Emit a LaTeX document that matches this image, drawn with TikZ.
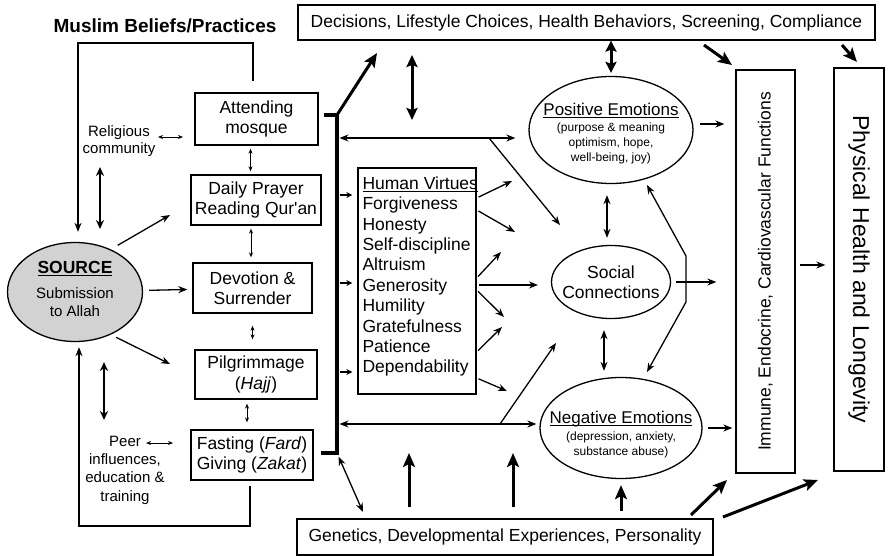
\documentclass[tikz,border=0pt]{standalone}
\usepackage{xcolor}
\usepackage{tikz}
\usepackage{fontspec}
\setmainfont{Liberation Sans}
\usetikzlibrary{shapes.geometric, arrows.meta}

\begin{document}
\begin{tikzpicture}[x=1pt, y=-1pt,
    caja/.style={draw, line width=1.3pt, align=center, inner sep=4pt,
      font=\fontsize{17.5pt}{20.5pt}\selectfont},
    elipse/.style={draw, ellipse, line width=1.3pt, inner sep=0pt},
    texto/.style={align=center, inner sep=3pt},
    flecha/.style={->, >={Stealth[length=9pt, width=7pt]}, line width=1.3pt},
    dflecha/.style={flecha, <->},
    corta/.style={->, >={Stealth[length=6pt, width=6pt]}, line width=1.3pt},
    flechita/.style={<->, >={Stealth[length=5pt, width=4pt]}, line width=0.8pt},
    media/.style={<->, >={Stealth[length=9pt, width=8pt]}, line width=1.8pt},
    gruesa/.style={->, >={Stealth[length=14pt, width=12pt, inset=3pt]}, line width=3pt},
    dgruesa/.style={gruesa, <->}]
  \useasboundingbox (0,0) rectangle (889,556);

  % Nodos principales
  \node[font=\fontsize{19pt}{22pt}\selectfont\bfseries] (titulo) at (165,26) {Muslim Beliefs/Practices};
  \node[caja, minimum width=577pt, minimum height=35pt] (decisiones) at (586.5,22.5) {Decisions, Lifestyle Choices, Health Behaviors, Screening, Compliance};
  \node[caja, minimum width=416pt, minimum height=36pt] (genetica) at (505,537) {Genetics, Developmental Experiences, Personality};

  % Practicas
  \node[caja, minimum width=123pt, minimum height=52pt] (mezquita) at (256.5,119) {Attending\\mosque};
  \node[caja, minimum width=122pt, minimum height=50pt] (oracion) at (256,200) {Daily Prayer\\Reading Qur\textquotesingle an};
  \node[caja, minimum width=119pt, minimum height=50pt] (devocion) at (252.5,288) {Devotion \&\\Surrender};
  \node[caja, minimum width=122pt, minimum height=49pt] (hajj) at (256,374.5) {Pilgrimmage\\(\textit{Hajj})};
  \node[caja, minimum width=122pt, minimum height=50pt] (ayuno) at (252,455) {Fasting (\textit{Fard})\\Giving (\textit{Zakat})};

  % Fuente
  \node[elipse, fill=gray!35, minimum width=135pt, minimum height=99pt] (fuente) at (75,292) {};
  \node[texto, font=\fontsize{15pt}{18pt}\selectfont] (fuentetxt) at (75,289) {{\fontsize{17.5pt}{20pt}\selectfont\bfseries\underline{SOURCE}}\\[7pt]Submission\\to Allah};
  \node[texto, font=\fontsize{15pt}{17.5pt}\selectfont] (comunidad) at (119,141) {Religious\\community};
  \node[texto, font=\fontsize{15pt}{18.3pt}\selectfont] (pares) at (125,470) {Peer\\influences,\\education \&\\training};

  % Virtudes
  \node[caja, minimum width=118pt, minimum height=226pt] (virtudes) at (417,281) {};
  \node[anchor=north west, align=left, inner xsep=5pt, inner ysep=9pt,
    font=\fontsize{17.5pt}{20.4pt}\selectfont] (listavirtudes) at (virtudes.north west)
    {\underline{Human Virtues}\\Forgiveness\\Honesty\\Self-discipline\\Altruism\\Generosity\\Humility\\Gratefulness\\Patience\\Dependability};

  % Emociones
  \node[elipse, minimum width=164pt, minimum height=107pt] (positivas) at (611,130) {};
  \node[texto, font=\fontsize{12pt}{15pt}\selectfont] (positivastxt) at (611,134) {{\fontsize{17pt}{20pt}\selectfont\underline{Positive Emotions}}\\[1pt](purpose \& meaning\\optimism, hope,\\well-being, joy)};
  \node[elipse, minimum width=119pt, minimum height=73pt] (social) at (611,282) {};
  \node[texto, font=\fontsize{17.5pt}{20pt}\selectfont] (socialtxt) at (social) {Social\\Connections};
  \node[elipse, minimum width=162pt, minimum height=101pt] (negativas) at (621,428) {};
  \node[texto, font=\fontsize{12pt}{15pt}\selectfont] (negativastxt) at (621,435) {{\fontsize{17pt}{20pt}\selectfont\underline{\raisebox{0pt}[\height][0pt]{Negative Emotions}}}\\[2pt](depression, anxiety,\\substance abuse)};

  % Resultados
  \node[caja, minimum width=59pt, minimum height=403pt] (inmune) at (765.5,271.5) {\rotatebox{90}{Immune, Endocrine, Cardiovascular Functions}};
  \node[caja, minimum width=50pt, minimum height=403pt, font=\fontsize{23pt}{26pt}\selectfont] (salud) at (859,269.5) {\rotatebox{-90}{Physical Health and Longevity}};

  % Puntos de apoyo
  \coordinate (barrasup) at (337,115);
  \coordinate (barrainf) at (337,453);
  \coordinate (esqsup) at (78,43);
  \coordinate (esqinf) at (79,526);
  \coordinate (f1) at (170,215);
  \coordinate (f2) at (170,364);
  \coordinate (r1) at (158,137);
  \coordinate (r2) at (183,137);
  \coordinate (q1) at (146,443);
  \coordinate (q2) at (173,443);
  \coordinate (v1) at (100,167);
  \coordinate (v2) at (100,229);
  \coordinate (v3) at (104,362);
  \coordinate (v4) at (104,420);
  \coordinate (d1) at (377,53);
  \coordinate (d2) at (412,55);
  \coordinate (d3) at (412,120);
  \coordinate (b1) at (489,138);
  \coordinate (b2) at (560,225);
  \coordinate (b3) at (500,424);
  \coordinate (b4) at (556,343);
  \coordinate (g1) at (363,512);
  \coordinate (g2) at (691,515);
  \coordinate (g3) at (727,480);
  \coordinate (g4) at (723,517);
  \coordinate (g5) at (818,480);
  \coordinate (u1) at (409,453);
  \coordinate (u2) at (513,453);
  \coordinate (e1) at (512,181);
  \coordinate (e2) at (515,232);
  \coordinate (e3) at (501,252);
  \coordinate (e4) at (538,285);
  \coordinate (e5) at (504,317);
  \coordinate (e6) at (502,327);
  \coordinate (e7) at (507,391);
  \coordinate (k0) at (647,185);
  \coordinate (k1) at (686,256);
  \coordinate (k2) at (686,302);
  \coordinate (k3) at (647,372);
  \coordinate (c1) at (704,45);
  \coordinate (c2) at (732,65);
  \coordinate (c3) at (842,45);
  \coordinate (c4) at (857,62);

  % Lazos de retorno a la fuente
  \draw[flecha] ([xshift=-3.5pt, yshift=11pt]mezquita.north) |- (esqsup) -- ([xshift=3pt, yshift=10pt]fuente.north);
  \draw[flecha] ([xshift=-2pt, yshift=-5pt]ayuno.south) |- (esqinf) -- ([xshift=4pt, yshift=-5pt]fuente.south);

  % Flechas de la fuente
  \draw[flecha, shorten <=8pt] (fuente.50) -- (f1);
  \draw[flecha, shorten <=6pt, shorten >=5pt] (fuente) -- (devocion);
  \draw[flecha, shorten <=6pt] (fuente.-50) -- (f2);
  \draw[flechita] (r1) -- (r2);
  \draw[flechita] (q1) -- (q2);
  \draw[media] (v1) -- (v2);
  \draw[media] (v3) -- (v4);

  % Entre practicas
  \draw[flechita, shorten <=3pt, shorten >=3pt] ([xshift=-6pt]mezquita.south) -- ([xshift=-6pt]mezquita.south |- oracion.north);
  \draw[flechita, shorten <=3pt, shorten >=5pt] ([xshift=-5pt]oracion.south) -- ([xshift=-5pt]oracion.south |- devocion.north);
  \draw[flechita, shorten <=12pt, shorten >=10pt] (devocion.south) -- (devocion.south |- hajj.north);
  \draw[flechita, shorten <=4pt, shorten >=7pt] ([xshift=-9pt]hajj.south) -- ([xshift=-9pt]hajj.south |- ayuno.north);

  % Barra de practicas
  \draw[line width=4pt, shorten <=5pt, shorten >=7pt] (mezquita.east |- barrasup) -- (barrasup) -- (barrainf) -- (ayuno.east |- barrainf);
  \foreach \y in {195,283,372}
    \draw[corta, shorten <=2.5pt, shorten >=5pt] (barrasup |- 0,\y) -- (virtudes.west |- 0,\y);
  \draw[gruesa] (barrasup) -- (d1);
  \draw[dgruesa, >={Stealth[length=12pt, width=11pt, inset=2pt]}] (d2) -- (d3);
  \draw[dflecha, shorten <=2.5pt, shorten >=13pt] (barrasup |- 0,138) -- (positivas.west |- 0,138);
  \draw[flecha] (b1) -- (b2);
  \draw[dflecha, shorten <=2.5pt, shorten >=3pt] (barrasup |- 0,424) -- (negativas.west |- 0,424);
  \draw[flecha] (b3) -- (b4);
  \draw[dflecha, shorten <=4pt] (barrainf) -- (g1);

  % Virtudes hacia emociones
  \foreach \dy/\fin in {83/e1, 71/e2, 3/e3, -4/e4, -9/e5, -71/e6, -97/e7}
    \draw[flecha, shorten <=2pt] ([yshift=\dy pt]virtudes.east) -- (\fin);

  % Emociones entre si
  \draw[dgruesa, >={Stealth[length=11pt, width=11pt, inset=2pt]}, shorten >=3pt] (decisiones.south -| positivas.north) -- (positivas.north);
  \draw[dflecha, shorten <=11pt, shorten >=7pt] ([xshift=-4pt]positivas.south) -- ([xshift=-4pt]positivas.south |- social.north);
  \draw[dflecha, shorten <=11pt, shorten >=6pt] ([xshift=-7pt]social.south) -- ([xshift=-7pt]social.south |- negativas.north);
  \draw[dflecha] (k0) -- (k1) -- (k2) -- (k3);

  % Hacia la salud
  \draw[flecha, shorten <=6pt, shorten >=11pt] (positivas.east |- 0,124) -- (inmune.west |- 0,124);
  \draw[flecha, shorten <=5pt, shorten >=19pt] (social.east) -- (inmune.west |- social.east);
  \draw[flecha, shorten <=5pt, shorten >=3pt] (negativas.east) -- (inmune.west |- negativas.east);
  \draw[flecha, shorten <=4pt, shorten >=8pt] (inmune.east |- 0,265) -- (salud.west |- 0,265);
  \draw[gruesa] (c1) -- (c2);
  \draw[gruesa] (c3) -- (c4);

  % Genetica
  \draw[gruesa, shorten <=11pt] (genetica.north -| u1) -- (u1);
  \draw[gruesa, shorten <=11pt] (genetica.north -| u2) -- (u2);
  \draw[gruesa, shorten <=7pt, shorten >=6pt] (genetica.north -| negativas.south) -- (negativas.south);
  \draw[gruesa] (g2) -- (g3);
  \draw[gruesa] (g4) -- (g5);
\end{tikzpicture}
\end{document}
